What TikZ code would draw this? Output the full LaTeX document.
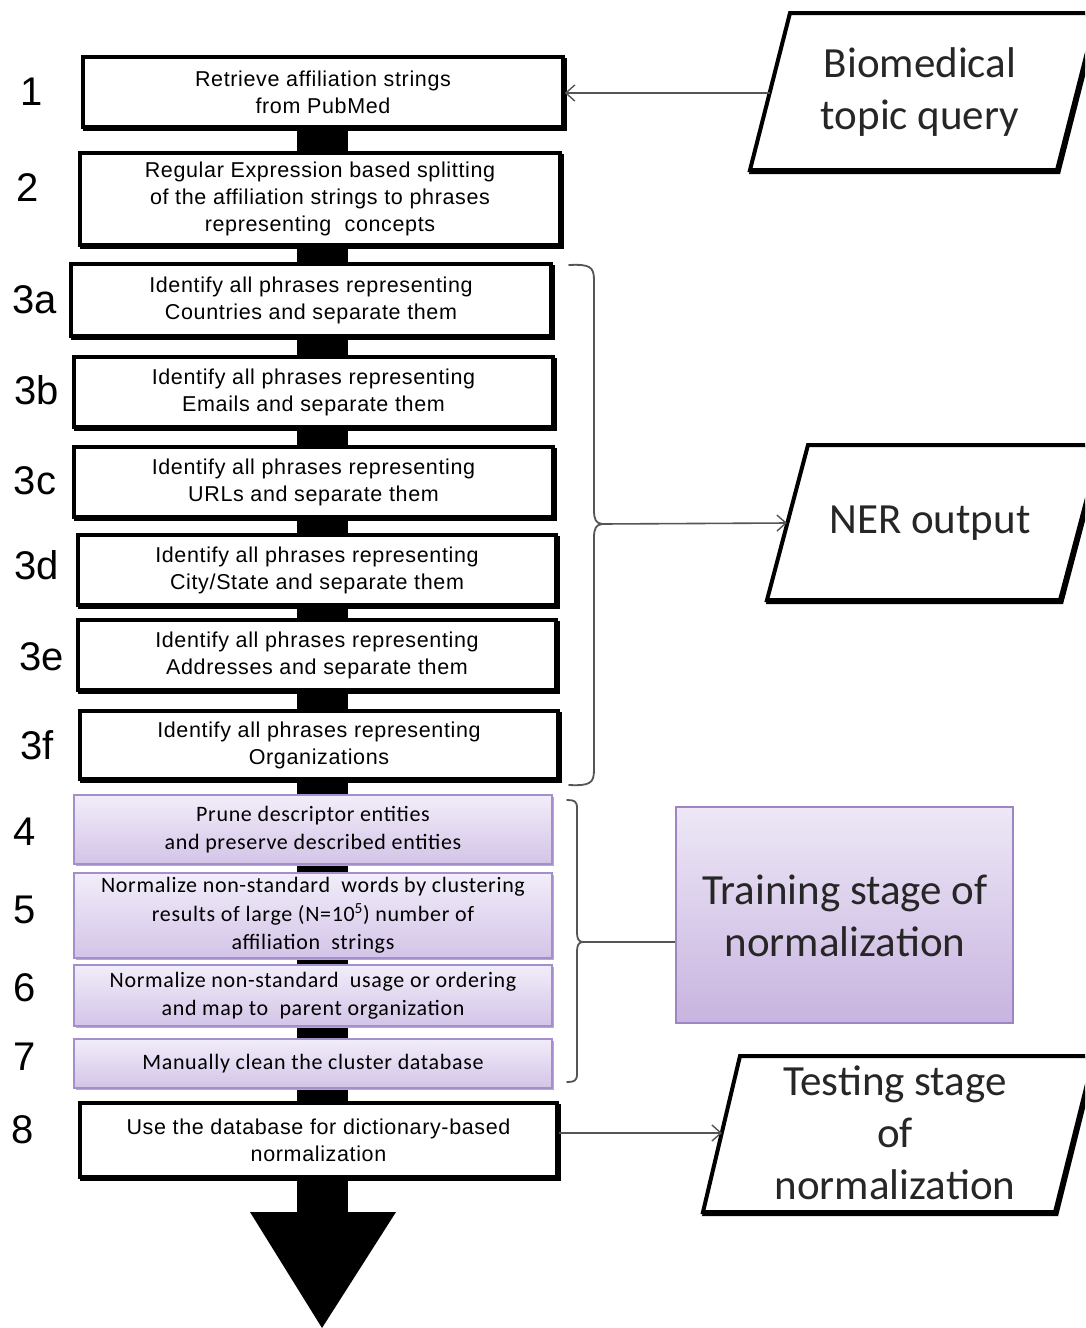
\documentclass[tikz,border=0pt]{standalone}
\usepackage{fontspec}
\setmainfont{Liberation Sans}
\newfontfamily\boxfont[LetterSpace=3]{Liberation Sans}
\newfontfamily\calfont[LetterSpace=3]{Carlito}
\newfontfamily\bigfont{Carlito}
\usetikzlibrary{arrows.meta}
\definecolor{ptop}{HTML}{F2EDF9}
\definecolor{pbot}{HTML}{D3C4E8}
\definecolor{pborder}{HTML}{A38FCB}
\definecolor{ttop}{HTML}{EDE7F6}
\definecolor{tbot}{HTML}{C8B4E0}
\definecolor{tborder}{HTML}{9C86C4}
\definecolor{connc}{HTML}{555555}
\begin{document}
\begin{tikzpicture}[x=1pt,y=-1pt,
  blackbox/.style={draw=black, line width=3.5pt, fill=white, align=center, inner sep=0pt,
    font=\boxfont\fontsize{21.5}{27}\selectfont,
    preaction={draw=black, fill=black, line width=3.5pt, transform canvas={shift={(2pt,-2.5pt)}}}},
  purplebox/.style={draw=pborder, line width=1.5pt, top color=ptop, bottom color=pbot, align=center, inner sep=0pt,
    font=\calfont\fontsize{22}{28.5}\selectfont,
    preaction={fill=black!30, transform canvas={shift={(1.5pt,-2pt)}}}},
  steplabel/.style={font=\fontsize{40}{40}\selectfont, inner sep=0pt},
  bigtext/.style={font=\bigfont\fontsize{43}{52}\selectfont, align=center, inner sep=0pt, text=black!85},
  para/.style={draw=black, line width=4pt, fill=white, line join=miter,
    preaction={draw=black, line width=4pt, transform canvas={shift={(1.5pt,-2pt)}}}},
  conn/.style={draw=connc, line width=1.6pt, -{Straight Barb[length=9pt,width=16pt,line width=1.4pt]}},
  bracestyle/.style={draw=connc, line width=1.8pt, line cap=round},
]
\useasboundingbox (0,0) rectangle (1085,1328);
\clip (0,0) rectangle (1085,1328);
\fill[white] (0,0) rectangle (1085,1328);

% central spine and big arrow
\fill[black] (297,120) rectangle (348,1214);
\fill[black] (250,1212) -- (396,1212) -- (322,1328) -- cycle;

% process boxes
\node[blackbox, minimum width=480, minimum height=70] (b1) at (323,92) {Retrieve affiliation strings\\from PubMed};
\node[blackbox, minimum width=480, minimum height=92] (b2) at (320,199) {Regular Expression based splitting\\of the affiliation strings to phrases\\representing \ concepts};
\node[blackbox, minimum width=480, minimum height=72] (b3a) at (311,300) {Identify all phrases representing\\Countries and separate them};
\node[blackbox, minimum width=479, minimum height=70] (b3b) at (313.5,392) {Identify all phrases representing\\Emails and separate them};
\node[blackbox, minimum width=479, minimum height=70] (b3c) at (313.5,482) {Identify all phrases representing\\URLs and separate them};
\node[blackbox, minimum width=478, minimum height=70] (b3d) at (317,570) {Identify all phrases representing\\City/State and separate them};
\node[blackbox, minimum width=478, minimum height=70] (b3e) at (317,655) {Identify all phrases representing\\Addresses and separate them};
\node[blackbox, minimum width=478, minimum height=68] (b3f) at (319,745) {Identify all phrases representing\\Organizations};
\node[purplebox, minimum width=478, minimum height=69] (b4) at (313,829.5) {Prune descriptor entities\\and preserve described entities};
\node[purplebox, minimum width=478, minimum height=85] (b5) at (313,915.5) {Normalize non-standard \ words by clustering\\results of large (N=10\textsuperscript{5}) number of\\affiliation \ strings};
\node[purplebox, minimum width=478, minimum height=61] (b6) at (313,995.5) {Normalize non-standard \ usage or ordering\\and map to \ parent organization};
\node[purplebox, minimum width=478, minimum height=49] (b7) at (313,1063.5) {Manually clean the cluster database};
\node[blackbox, minimum width=477, minimum height=74] (b8) at (318.5,1140) {Use the database for dictionary-based\\normalization};

% step labels
\node[steplabel] (l1) at (32,92) {1};
\node[steplabel] (l2) at (28,188) {2};
\node[steplabel] (l3a) at (35,300) {3a};
\node[steplabel] (l3b) at (37,390) {3b};
\node[steplabel] (l3c) at (35,481) {3c};
\node[steplabel] (l3d) at (37,565) {3d};
\node[steplabel] (l3e) at (42,657) {3e};
\node[steplabel] (l3f) at (37,745) {3f};
\node[steplabel] (l4) at (25,832) {4};
\node[steplabel] (l5) at (25,910) {5};
\node[steplabel] (l6) at (25,988) {6};
\node[steplabel] (l7) at (25,1057) {7};
\node[steplabel] (l8) at (23,1130) {8};

% Biomedical topic query
\draw[para] (790,13) -- (1097,13) -- (1057,170) -- (750,170) -- cycle;
\node[bigtext] (bq) at (920,92) {Biomedical\\topic query};
\coordinate (bqL) at (770,93);
\draw[conn] (bqL) -- (bqL -| b1.east);

% NER output
\draw[para] (808,445) -- (1101,445) -- (1060,600) -- (767,600) -- cycle;
\node[bigtext] (ner) at (930,523) {NER output};
\coordinate (nerL) at (787,523);

% brace 1
\coordinate (br1tip) at (602,524);
\draw[bracestyle] (569,265) .. controls (590,264) and (594,267) .. (594,280) -- (594,510)
  .. controls (594,520) and (596,523) .. (br1tip)
  .. controls (596,525) and (594,528) .. (594,538) -- (594,770)
  .. controls (594,783) and (590,786) .. (569,785);
\draw[conn] (br1tip) -- (nerL);

% Training stage
\node[draw=tborder, line width=2pt, top color=ttop, bottom color=tbot, minimum width=337, minimum height=216, inner sep=0pt] (train) at (844.5,915) {};
\node[bigtext] (trtext) at (845,916) {Training stage of\\normalization};
\coordinate (br2tip) at (582,942);
\draw[bracestyle] (567,800) .. controls (574,800) and (577,801) .. (577,808) -- (577,932)
  .. controls (577,938) and (578,941) .. (br2tip)
  .. controls (578,943) and (577,946) .. (577,952) -- (577,1074)
  .. controls (577,1081) and (574,1082) .. (567,1082);
\draw[draw=connc, line width=1.8pt] (br2tip) -- (br2tip -| train.west);

% Testing stage
\draw[para] (740,1056) -- (1094,1056) -- (1055,1212) -- (703,1212) -- cycle;
\node[bigtext] (ts) at (895,1133) {Testing stage\\of\\normalization};
\coordinate (tsL) at (722,1133);
\draw[conn] (tsL -| b8.east) -- (tsL);
\end{tikzpicture}
\end{document}
